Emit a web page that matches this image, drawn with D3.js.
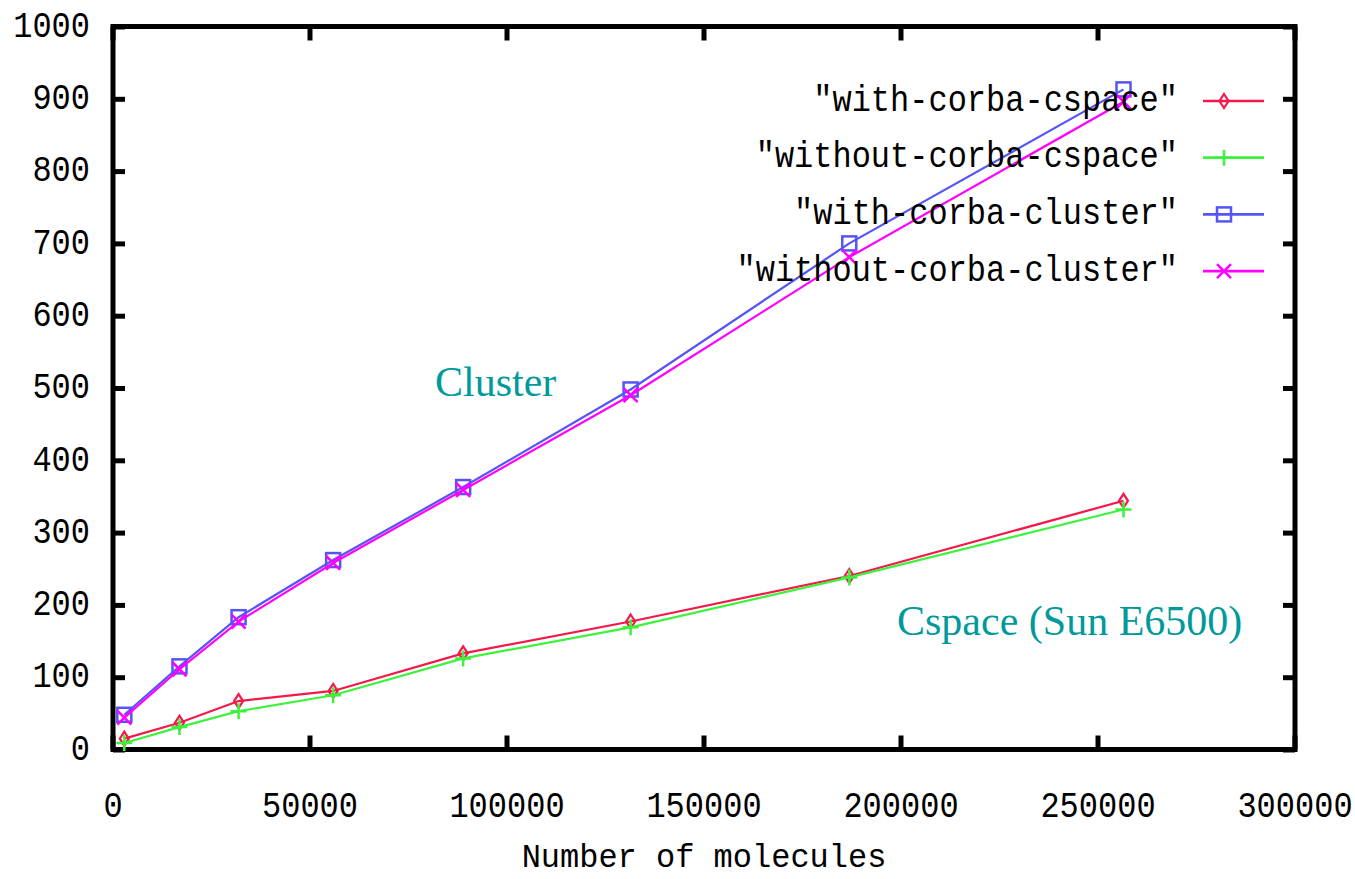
<!DOCTYPE html>
<html><head><meta charset="utf-8">
<script src="https://cdn.jsdelivr.net/npm/d3@7"></script>
<style>body{margin:0;background:#fff}</style>
</head><body><svg id="c" width="1355" height="879"></svg>
<script>
const molecules = [3000, 17000, 32000, 56000, 89000, 131500, 187000, 256600];
const withCorbaCspace = [15, 37, 67, 81, 133, 177, 240, 344];
const withoutCorbaCspace = [9, 31, 53, 75, 126, 169, 238, 332];
const withCorbaCluster = [48, 115, 183, 262, 363, 498, 700, 913];
const withoutCorbaCluster = [44, 111, 177, 258, 359, 490, 681, 896];
const seriesNames = ['"with-corba-cspace"', '"without-corba-cspace"', '"with-corba-cluster"', '"without-corba-cluster"'];
const xTicks = [0, 50000, 100000, 150000, 200000, 250000, 300000];
const yTicks = [0, 100, 200, 300, 400, 500, 600, 700, 800, 900, 1000];
const xTitle = "Number of molecules";
const annotationTexts = ["Cluster", "Cspace (Sun E6500)"];

const colors = ["#f5184a", "#3cf23c", "#5555f5", "#ff00ff"];
const markers = ["diamond", "plus", "square", "cross"];
const series = [withCorbaCspace, withoutCorbaCspace, withCorbaCluster, withoutCorbaCluster];

const L = 113, R = 1295, T = 26.5, B = 749.5;
const SY = 1.18;
const x = d3.scaleLinear().domain([0, 300000]).range([L - 0.5, R - 0.5]);
const y = d3.scaleLinear().domain([0, 1000]).range([B, T]);

const svg = d3.select("#c");
const font = "'Liberation Mono', 'DejaVu Sans Mono', monospace";

// axes (ticks inward, mirrored)
const gl = svg.append("g").attr("transform", `translate(${L},0)`)
  .call(d3.axisLeft(y).tickValues(yTicks).tickSize(-12).tickPadding(23).tickFormat(d3.format("d")));
const gr = svg.append("g").attr("transform", `translate(${R},0)`)
  .call(d3.axisRight(y).tickValues(yTicks).tickSize(-12).tickFormat(""));
const gb = svg.append("g").attr("transform", `translate(0,${B})`)
  .call(d3.axisBottom(x).tickValues(xTicks).tickSize(-14).tickPadding(0).tickFormat(d3.format("d")));
const gt = svg.append("g").attr("transform", `translate(0,${T})`)
  .call(d3.axisTop(x).tickValues(xTicks).tickSize(-14).tickFormat(""));
[gl, gr, gb, gt].forEach(g => {
  g.select(".domain").remove();
  g.selectAll(".tick line").attr("stroke", "#000").attr("stroke-width", 5);
  g.selectAll("text").attr("font-family", font).attr("font-size", 32).attr("fill", "#000");
});
gl.selectAll("text").attr("dy", null).attr("dominant-baseline", "central")
  .attr("x", -23).attr("transform", `scale(1,${SY})`);
gb.selectAll("text").attr("dy", null).attr("y", 58 / SY).attr("dominant-baseline", "central")
  .attr("transform", `scale(1,${SY})`);

// frame
svg.append("rect").attr("x", L).attr("y", T).attr("width", R - L).attr("height", B - T)
  .attr("fill", "none").attr("stroke", "#000").attr("stroke-width", 5);

function monoText(tx, ty, str, anchor, sy) {
  svg.append("text").attr("transform", `translate(${tx},${ty}) scale(1,${sy})`)
    .attr("text-anchor", anchor).attr("dominant-baseline", "central")
    .attr("font-family", font).attr("font-size", 32).attr("fill", "#000").text(str);
}

// x title
monoText((L + R) / 2, 858, xTitle, "middle", 1.05);

function marker(g, type, cx, cy, color) {
  if (type === "diamond") {
    g.append("path").attr("d", `M${cx},${cy-7}L${cx+4.5},${cy}L${cx},${cy+7}L${cx-4.5},${cy}Z`)
      .attr("fill", "none").attr("stroke", color).attr("stroke-width", 2.2);
  } else if (type === "plus") {
    g.append("path").attr("d", `M${cx-8},${cy}H${cx+8}M${cx},${cy-8}V${cy+8}`)
      .attr("fill", "none").attr("stroke", color).attr("stroke-width", 2.5);
  } else if (type === "square") {
    g.append("rect").attr("x", cx - 7).attr("y", cy - 7).attr("width", 14).attr("height", 14)
      .attr("fill", "none").attr("stroke", color).attr("stroke-width", 2.5);
  } else {
    g.append("path").attr("d", `M${cx-7},${cy-7}L${cx+7},${cy+7}M${cx+7},${cy-7}L${cx-7},${cy+7}`)
      .attr("fill", "none").attr("stroke", color).attr("stroke-width", 2.5);
  }
}

const line = d3.line().x(d => x(d[0])).y(d => y(d[1]));
series.forEach((vals, i) => {
  const pts = molecules.map((m, j) => [m, vals[j]]);
  const g = svg.append("g");
  g.append("path").datum(pts).attr("d", line).attr("fill", "none")
    .attr("stroke", colors[i]).attr("stroke-width", 2.2);
  pts.forEach(p => marker(g, markers[i], x(p[0]), y(p[1]), colors[i]));
});

// legend
seriesNames.forEach((name, i) => {
  const ly = 101 + i * 56.7;
  monoText(1178, ly, name, "end", SY);
  svg.append("line").attr("x1", 1203).attr("x2", 1264).attr("y1", ly).attr("y2", ly)
    .attr("stroke", colors[i]).attr("stroke-width", 2.7);
  marker(svg, markers[i], 1224, ly, colors[i]);
});

// annotations
svg.append("text").attr("x", 435).attr("y", 396).attr("font-family", "'Liberation Serif', serif")
  .attr("font-size", 42).attr("fill", "#009a9a").text(annotationTexts[0]);
svg.append("text").attr("x", 897).attr("y", 635).attr("font-family", "'Liberation Serif', serif")
  .attr("font-size", 42).attr("fill", "#009a9a").text(annotationTexts[1]);
</script></body></html>
